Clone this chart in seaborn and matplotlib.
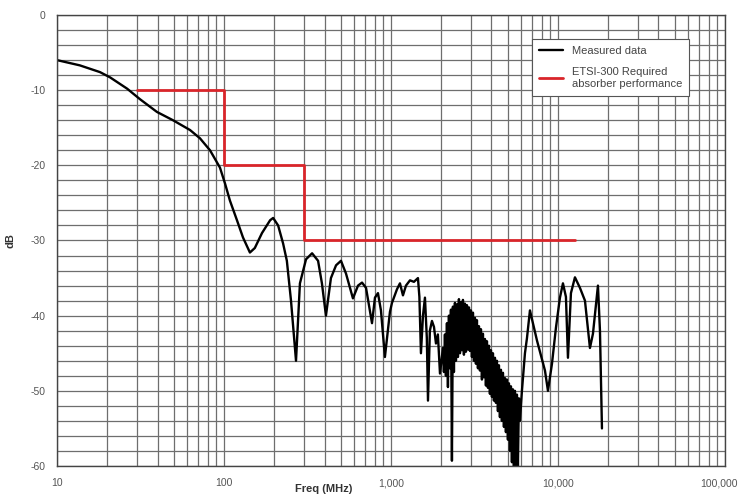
import numpy as np
import pandas as pd
import matplotlib
matplotlib.use("Agg")
import matplotlib.pyplot as plt
import matplotlib.transforms as mtransforms
import seaborn as sns
from matplotlib.ticker import MultipleLocator, LogLocator, NullFormatter

# DATOS MEDIDOS (frecuencia en MHz, nivel en dB)

freq_smooth = [10, 13.7, 18.1, 20.8, 26.3, 31.4, 39.7, 49.5, 62.6, 71.8, 82.5, 94.6,
               101.4, 108.6, 119.6, 130, 143, 153, 169, 189, 197, 211, 226, 238,
               252, 270, 285, 310, 337, 366, 386, 408, 437, 469, 502, 538, 592,
               635, 671, 709, 770, 802, 836, 871, 920, 986, 1014, 1086, 1132,
               1180, 1230, 1300, 1373, 1451, 1480, 1512, 1555, 1598, 1640, 1666,
               1710, 1760, 1810, 1860, 1910, 1966]
db_smooth = [-6.0, -6.7, -7.6, -8.3, -9.8, -11.2, -12.9, -14.0, -15.3, -16.4, -18.0, -20.3,
             -22.4, -24.7, -27.3, -29.6, -31.6, -31.0, -29.0, -27.3, -27.0, -28.0, -30.4, -32.7,
             -38.0, -46.0, -35.7, -32.5, -31.7, -32.7, -35.7, -40.0, -35.0, -33.3, -32.7, -34.4, -37.7,
             -36.0, -35.6, -36.3, -41.0, -37.6, -37.0, -39.3, -45.5, -39.5, -38.3, -36.5, -35.7,
             -37.3, -36.0, -35.3, -35.5, -35.0, -37.5, -45.0, -40.0, -37.6, -43.0, -51.3,
             -42.0, -40.7, -41.5, -43.7, -42.5, -47.7]

freq_dense = [2048, 2076, 2105, 2134, 2164, 2194, 2224, 2255, 2287, 2318,
              2350, 2383, 2416, 2450, 2484, 2518, 2553, 2589, 2625, 2661,
              2698, 2735, 2773, 2812, 2851, 2890, 2931, 2971, 3012, 3054,
              3097, 3140, 3183, 3227, 3272, 3318, 3364, 3410, 3458, 3506,
              3554, 3604, 3654, 3704, 3756, 3808, 3861, 3914, 3969, 4024,
              4080, 4136, 4194, 4252, 4311, 4371, 4431, 4493, 4555, 4618,
              4683, 4748, 4814, 4880, 4948, 5017, 5086, 5157, 5229, 5301,
              5375, 5449, 5525, 5602, 5679, 5758, 5838, 5919]
db_dense = [-44.3, -47.5, -42.5, -48.0, -41.0, -49.5, -40.0, -47.0, -39.2, -59.3,
            -38.8, -47.5, -38.3, -46.0, -38.5, -45.5, -37.8, -45.0, -38.2, -44.6,
            -37.9, -45.2, -38.4, -44.8, -38.6, -44.5, -38.9, -44.7, -39.3, -45.5,
            -39.6, -46.0, -40.3, -46.4, -40.6, -47.0, -41.4, -47.3, -41.8, -48.5,
            -42.4, -48.2, -43.1, -49.3, -43.4, -49.6, -44.0, -50.4, -44.6, -50.8,
            -45.0, -51.3, -45.6, -51.6, -46.0, -52.7, -46.6, -53.5, -47.2, -54.0,
            -47.6, -54.8, -48.3, -55.5, -48.5, -56.5, -49.0, -58.0, -49.4, -59.5,
            -49.8, -60.0, -50.0, -60.0, -50.5, -60.0, -51.0, -54.0]

freq_tail = [6086, 6344, 6522, 6797, 7085, 7488, 8360, 8713, 9208, 9728,
             10280, 10714, 11165, 11478, 11962, 12642, 13544, 14512, 15546,
             16205, 17360, 17848, 18347]
db_tail = [-50.0, -45.0, -43.0, -39.3, -41.0, -43.3, -47.3, -50.0, -46.4, -41.6,
           -37.6, -35.7, -37.5, -45.6, -37.0, -34.9, -36.3, -38.0, -44.3,
           -42.4, -36.0, -42.0, -55.0]

# LIMITE ETSI-300 (escalones)

etsi_freq = [30, 100, 100, 300, 300, 12700]
etsi_db = [-10, -10, -20, -20, -30, -30]

x_ticks = [10, 100, 1000, 10000, 100000]
x_labels = ["10", "100", "1,000", "10,000", "100,000"]
y_ticks = [0, -10, -20, -30, -40, -50, -60]

measured = pd.DataFrame({
    "freq": freq_smooth + freq_dense + freq_tail,
    "db": db_smooth + db_dense + db_tail,
})
etsi = pd.DataFrame({"freq": etsi_freq, "db": etsi_db})

sns.set_style("white")
plt.rcParams["font.family"] = ["Liberation Sans", "DejaVu Sans"]
plt.rcParams["axes.unicode_minus"] = False

grid_color = "#6e6e6e"
text_color = "#555555"

fig = plt.figure(figsize=(7.42, 4.95), dpi=100, facecolor="white")
ax = fig.add_axes([0.0768, 0.0586, 0.9002, 0.9111])

sns.lineplot(data=measured, x="freq", y="db", sort=False, estimator=None,
             color="black", linewidth=1.7, label="Measured data", ax=ax)
sns.lineplot(data=etsi, x="freq", y="db", sort=False, estimator=None,
             color="#d9252a", linewidth=2.0,
             label="ETSI-300 Required\nabsorber performance", ax=ax)

ax.set_xscale("log")
ax.set_xlim(10, 100000)
ax.set_ylim(-60, 0)

ax.set_xticks(x_ticks)
ax.set_xticklabels(x_labels)
ax.xaxis.set_minor_locator(LogLocator(base=10, subs=np.arange(2, 10)))
ax.xaxis.set_minor_formatter(NullFormatter())
ax.set_yticks(y_ticks)
ax.yaxis.set_minor_locator(MultipleLocator(2))

ax.grid(which="both", color=grid_color, linewidth=0.9)
ax.set_axisbelow(True)

for side in ["top", "right", "left", "bottom"]:
    ax.spines[side].set_color("#444444")
    ax.spines[side].set_linewidth(1.0)

ax.tick_params(axis="both", which="both", direction="in", colors="#444444",
               labelcolor=text_color, labelsize=7.5, length=3)
ax.tick_params(axis="x", pad=9)
ax.tick_params(axis="y", pad=8)

# la ultima etiqueta queda pegada al borde: se corre un poco a la izquierda
last = ax.get_xticklabels()[-1]
last.set_transform(last.get_transform() +
                   mtransforms.ScaledTranslation(-4 / 72, 0, fig.dpi_scale_trans))

ax.set_xlabel("Freq (MHz)", fontsize=8, fontweight="bold", color="#333333")
ax.xaxis.set_label_coords(0.4, -0.040)
ax.set_ylabel("dB", fontsize=8, fontweight="bold", color="#333333")
ax.yaxis.set_label_coords(-0.062, 0.5)

leg = ax.legend(loc="upper right", bbox_to_anchor=(0.955, 0.958),
                frameon=True, fancybox=False, fontsize=8, handlelength=2.2,
                borderpad=0.6, labelspacing=1.0, framealpha=1)
leg.get_frame().set_edgecolor("#555555")
leg.get_frame().set_linewidth(0.8)
for t in leg.get_texts():
    t.set_color("#444444")

plt.savefig("out.png", dpi=100, facecolor="white")
